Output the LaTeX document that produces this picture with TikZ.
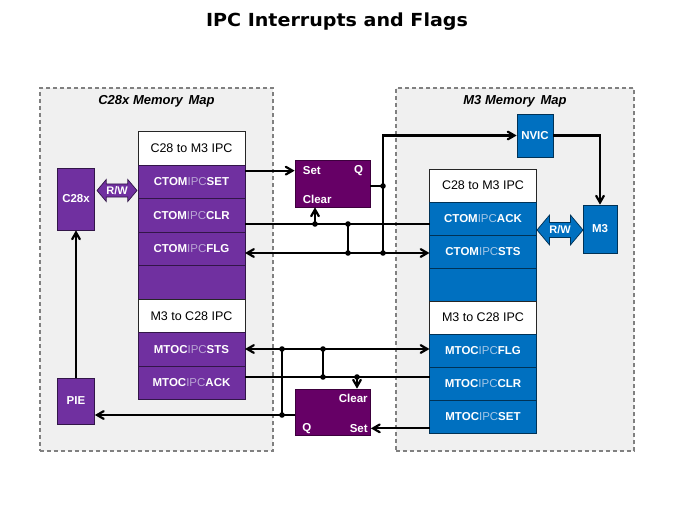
\documentclass[tikz,border=0pt]{standalone}
\usepackage{fontspec}
\setmainfont{Liberation Sans}
\newfontfamily\titlefont{DejaVu Sans}[FakeStretch=1.06]
\usepackage{xcolor}
\usepackage{tikz}
\usetikzlibrary{shapes.arrows, arrows, positioning}

\definecolor{regpurple}{HTML}{7030A0}
\definecolor{regblue}{HTML}{0070C0}
\definecolor{ffpurple}{HTML}{660066}
\definecolor{ipcpurple}{HTML}{B9A4D4}
\definecolor{ipcblue}{HTML}{A3C6E6}
\definecolor{mapgray}{HTML}{F0F0F0}
\definecolor{mapedge}{HTML}{808080}

\newcommand{\ipcp}[2]{#1{\mdseries\color{ipcpurple}IPC}#2}
\newcommand{\ipcb}[2]{#1{\mdseries\color{ipcblue}IPC}#2}

\tikzstyle{memmap} = [rectangle, draw=mapedge, fill=mapgray, line width=1.3pt, dash pattern=on 4pt off 3pt, inner sep=0pt, outer sep=0pt]
\tikzstyle{maptitle} = [inner sep=0pt, font=\fontsize{13}{15}\selectfont\bfseries\itshape]
\tikzstyle{header} = [rectangle, minimum width=107pt, minimum height=33.5pt, inner sep=0pt, outer sep=0pt, draw=black!85, line width=0.7pt, fill=white, font=\fontsize{12.5}{14}\selectfont]
\tikzstyle{headerb} = [header, minimum height=33pt]
\tikzstyle{cregp} = [header, fill=regpurple, draw=regpurple!45!black, text=white, font=\fontsize{11.5}{13}\selectfont\bfseries]
\tikzstyle{cregb} = [headerb, fill=regblue, draw=regblue!45!black, text=white, font=\fontsize{11.5}{13}\selectfont\bfseries]
\tikzstyle{cpup} = [rectangle, minimum width=37pt, inner sep=0pt, draw=regpurple!45!black, line width=0.7pt, fill=regpurple, text=white, font=\fontsize{11.5}{13}\selectfont\bfseries]
\tikzstyle{cpub} = [cpup, draw=regblue!45!black, fill=regblue]
\tikzstyle{ffbox} = [rectangle, minimum width=75pt, draw=ffpurple!60!black, line width=0.7pt, fill=ffpurple]
\tikzstyle{fflabel} = [inner sep=0pt, text=white, font=\fontsize{11.5}{13}\selectfont\bfseries]
\tikzstyle{rwarrow} = [double arrow, double arrow tip angle=100, double arrow head extend=4pt, inner sep=1.5pt, draw=regpurple!45!black, line width=0.7pt, fill=regpurple, text=white, font=\fontsize{11}{12}\selectfont\bfseries]
\tikzstyle{line} = [line width=2.2pt]
\tikzstyle{arrow} = [line width=2.2pt,->,>=angle 60]
\tikzstyle{dblarrow} = [line width=2.2pt,<->,>=angle 60]

\begin{document}
\begin{tikzpicture}[x=1pt, y=-1pt]
    \useasboundingbox (0,0) rectangle (674,506);
    \node (title) at (337,22) {\titlefont\bfseries\fontsize{18}{20}\selectfont IPC Interrupts and Flags};

    % memory maps
    \node (c28map) [memmap, minimum width=233pt, minimum height=363pt] at (156.5,269.5) {};
    \node (m3map) [memmap, minimum width=238pt, minimum height=363pt] at (515,269.5) {};
    \node (c28title) [maptitle, below=7pt of c28map.north] {C28x Memory\,  Map};
    \node (m3title) [maptitle, below=7pt of m3map.north] {M3 Memory\,  Map};

    % C28x side registers
    \node (c28hdr) [header] at (191.5,148.5) {C28 to M3 IPC};
    \node (ctomset) [cregp, below=0pt of c28hdr] {\ipcp{CTOM}{SET}};
    \node (ctomclr) [cregp, below=0pt of ctomset] {\ipcp{CTOM}{CLR}};
    \node (ctomflg) [cregp, below=0pt of ctomclr] {\ipcp{CTOM}{FLG}};
    \node (c28blank) [cregp, below=0pt of ctomflg] {};
    \node (c28hdrb) [header, below=0pt of c28blank] {M3 to C28 IPC};
    \node (mtocsts) [cregp, below=0pt of c28hdrb] {\ipcp{MTOC}{STS}};
    \node (mtocack) [cregp, below=0pt of mtocsts] {\ipcp{MTOC}{ACK}};

    % M3 side registers
    \node (m3hdr) [headerb] at (483,185.5) {C28 to M3 IPC};
    \node (ctomack) [cregb, below=0pt of m3hdr] {\ipcb{CTOM}{ACK}};
    \node (ctomsts) [cregb, below=0pt of ctomack] {\ipcb{CTOM}{STS}};
    \node (m3blank) [cregb, below=0pt of ctomsts] {};
    \node (m3hdrb) [headerb, below=0pt of m3blank] {M3 to C28 IPC};
    \node (mtocflg) [cregb, below=0pt of m3hdrb] {\ipcb{MTOC}{FLG}};
    \node (mtocclr) [cregb, below=0pt of mtocflg] {\ipcb{MTOC}{CLR}};
    \node (mtocset) [cregb, below=0pt of mtocclr] {\ipcb{MTOC}{SET}};

    % cpus
    \node (c28x) [cpup, minimum height=62pt] at (76,199) {C28x};
    \node (pie) [cpup, minimum height=46pt] at (76,401) {PIE};
    \node (nvic) [cpub, minimum width=36pt, minimum height=43pt] at (535,135.5) {NVIC};
    \node (m3) [cpub, minimum width=34pt, minimum height=48pt] at (600,229) {M3};
    \node (rwa) [rwarrow, minimum height=40pt, minimum width=22pt] at (117,190.5) {R/W};
    \node (rwb) [rwarrow, draw=regblue!45!black, fill=regblue, double arrow head extend=6pt, minimum height=46pt, minimum width=30pt] at (560,230) {R/W};

    % flag flip-flops
    \node (ffa) [ffbox, minimum height=47pt] at (332.5,183.5) {};
    \node (ffaset) [fflabel, anchor=west] at ([xshift=8pt, yshift=-11pt]ffa.north west) {Set};
    \node (ffaq) [fflabel, anchor=east] at ([xshift=-7pt, yshift=-11pt]ffa.north east) {Q};
    \node (ffaclr) [fflabel, anchor=west] at ([xshift=8pt, yshift=8pt]ffa.south west) {Clear};
    \node (ffb) [ffbox, minimum height=46pt] at (333,412) {};
    \node (ffbclr) [fflabel, anchor=east] at ([xshift=-3pt, yshift=-10pt]ffb.north east) {Clear};
    \node (ffbq) [fflabel, anchor=west] at ([xshift=7pt, yshift=7pt]ffb.south west) {Q};
    \node (ffbset) [fflabel, anchor=east] at ([xshift=-3pt, yshift=7pt]ffb.south east) {Set};

    \coordinate (jclra) at (315,224);
    \coordinate (jclrb) at (348,224);
    \coordinate (jq) at (383,186);
    \coordinate (jflga) at (348,253);
    \coordinate (jflgb) at (383,253);
    \coordinate (jstsa) at (282,349);
    \coordinate (jstsb) at (323,349);
    \coordinate (jacka) at (323,377);
    \coordinate (jackb) at (357,377);
    \coordinate (jqb) at (282,415);

    % C28 to M3
    \draw [arrow] (ctomset.east |- ffaset) -- (ffa.west |- ffaset);
    \draw [line] (ctomclr.east |- jclra) -- (ctomack.west |- jclra);
    \draw [arrow] (jclra) -- (jclra |- ffa.south);
    \draw [line] (jclrb) -- (jflga);
    \draw [line] (ffa.east |- jq) -- (jq) -- (jflgb);
    \draw [arrow] (jq) |- (nvic.west);
    \draw [arrow] (nvic.east) -| (m3.north);
    \draw [dblarrow] (ctomflg.east |- jflga) -- (ctomsts.west |- jflga);

    % M3 to C28
    \draw [dblarrow] (mtocsts.east |- jstsa) -- (mtocflg.west |- jstsa);
    \draw [line] (mtocack.east |- jacka) -- (mtocclr.west |- jacka);
    \draw [line] (jacka) -- (jstsb);
    \draw [arrow] (jackb) -- (jackb |- ffb.north);
    \draw [arrow] (mtocset.west |- ffbset) -- (ffb.east |- ffbset);
    \draw [arrow] (ffb.west |- jqb) -- (pie.east |- jqb);
    \draw [line] (jqb) -- (jstsa);
    \draw [arrow] (pie) -- (c28x);

    \fill (jclra) circle (2.8pt) (jclrb) circle (2.8pt) (jq) circle (2.8pt)
          (jflga) circle (2.8pt) (jflgb) circle (2.8pt) (jstsa) circle (2.8pt)
          (jstsb) circle (2.8pt) (jacka) circle (2.8pt) (jackb) circle (2.8pt)
          (jqb) circle (2.8pt);
\end{tikzpicture}
\end{document}
